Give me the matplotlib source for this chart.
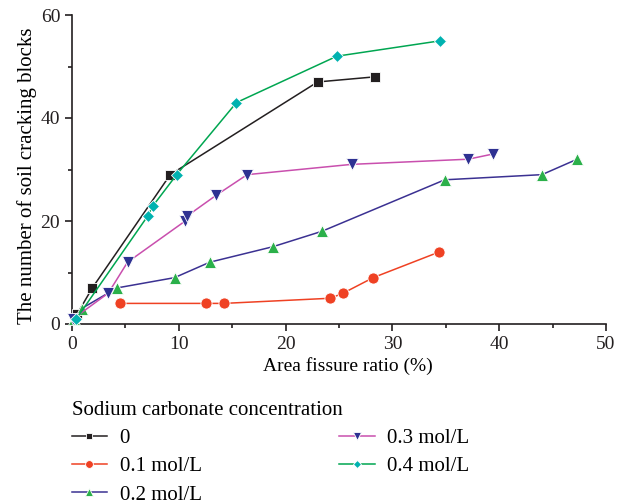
import matplotlib
matplotlib.use("Agg")
import matplotlib.pyplot as plt
from matplotlib.ticker import MultipleLocator

plt.rcParams['font.family'] = ['Liberation Serif', 'DejaVu Serif']

labels = ["0", "0.1 mol/L", "0.2 mol/L", "0.3 mol/L", "0.4 mol/L"]

x0 = [0.5, 1.9, 9.2, 23.0, 28.4]
y0 = [2, 7, 29, 47, 48]

x1 = [4.5, 12.5, 14.2, 24.2, 25.4, 28.2, 34.4]
y1 = [4, 4, 4, 5, 6, 9, 14]

x2 = [0.2, 0.9, 4.2, 9.6, 12.9, 18.8, 23.4, 34.9, 44.0, 47.3]
y2 = [1, 3, 7, 9, 12, 15, 18, 28, 29, 32]

x3 = [0.1, 3.4, 5.2, 10.6, 10.8, 13.5, 16.4, 26.2, 37.1, 39.4]
y3 = [1, 6, 12, 20, 21, 25, 29, 31, 32, 33]

x4 = [0.4, 7.1, 7.6, 9.8, 15.4, 24.8, 34.5]
y4 = [1, 21, 23, 29, 43, 52, 55]

series = [
    (x0, y0, '#231f20', '#231f20', 's', 6.5),
    (x1, y1, '#ef4123', '#ef4123', 'o', 8),
    (x2, y2, '#3b3192', '#2bb04a', '^', 8.5),
    (x3, y3, '#c94fae', '#2e3192', 'v', 8.5),
    (x4, y4, '#00a651', '#00b2b0', 'D', 6.5),
]

fig = plt.figure(figsize=(6.27, 5.04), dpi=100)
ax = fig.add_axes([72/627, 1-324/504, (606-72)/627, (324-15)/504])

handles = []
for (xs, ys, lc, mc, mk, ms), lab in zip(series, labels):
    h, = ax.plot(xs, ys, color=lc, lw=1.1, marker=mk, markersize=ms,
                 markerfacecolor=mc, markeredgecolor='white', markeredgewidth=0.6,
                 label=lab, clip_on=False, zorder=3)
    handles.append(h)

ax.set_xlim(0, 50)
ax.set_ylim(0, 60)
ax.xaxis.set_major_locator(MultipleLocator(10))
ax.xaxis.set_minor_locator(MultipleLocator(5))
ax.yaxis.set_major_locator(MultipleLocator(20))
ax.yaxis.set_minor_locator(MultipleLocator(10))
for s in ['top', 'right']:
    ax.spines[s].set_visible(False)
for s in ['left', 'bottom']:
    ax.spines[s].set_linewidth(1.2)
    ax.spines[s].set_color('#231f20')
ax.tick_params(which='major', direction='out', length=5, width=1.2, labelsize=14, colors='#231f20')
ax.tick_params(which='minor', direction='out', length=3, width=1.2, colors='#231f20')
ax.set_xlabel("Area fissure ratio (%)", fontsize=14)
ax.set_ylabel("The number of soil cracking blocks", fontsize=15)
ax.xaxis.set_label_coords(0.517, -0.108)
ax.yaxis.set_label_coords(-0.066, 0.479)

leg = fig.legend(handles=handles, loc='upper left', bbox_to_anchor=(53/627, 1-382/504),
                 ncol=2, frameon=False, fontsize=15, title="Sodium carbonate concentration",
                 title_fontsize=15, alignment='left', handlelength=1.7, handletextpad=0.6,
                 labelspacing=0.42, columnspacing=6.6, markerscale=0.7)

fig.savefig("out.png", dpi=100)
